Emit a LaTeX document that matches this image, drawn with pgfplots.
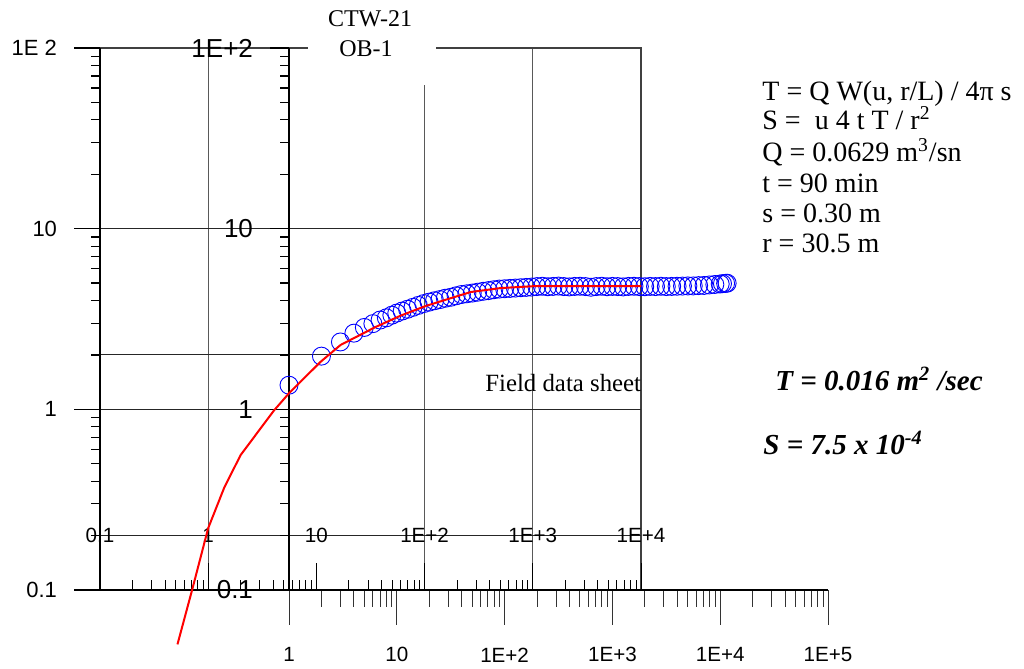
\documentclass[border=0pt]{standalone}
\usepackage{pgfplots}
\pgfplotsset{compat=1.18}
\usepackage{fontspec}
\setmainfont{Liberation Serif}
\newfontfamily\arial{Liberation Sans}

% field data (time, drawdown)
\pgfplotstableread{
t s
1 1.36
2 1.97
3 2.36
4 2.64
5 2.84
6 2.98
7 3.12
8 3.21
9 3.32
10 3.41
11.22 3.50
12.59 3.58
14.13 3.67
15.85 3.76
17.78 3.85
19.95 3.92
22.39 3.99
25.12 4.05
28.18 4.12
31.62 4.17
35.48 4.25
39.81 4.32
44.67 4.36
50.12 4.40
56.23 4.45
63.10 4.50
70.79 4.54
79.43 4.59
89.13 4.63
100 4.65
112.2 4.67
125.9 4.69
141.3 4.71
158.5 4.73
177.8 4.75
199.5 4.78
223.9 4.80
251.2 4.77
281.8 4.79
316.2 4.81
354.8 4.78
398.1 4.76
446.7 4.79
501.2 4.80
562.3 4.78
631.0 4.74
707.9 4.78
794.3 4.80
891.3 4.77
1000 4.79
1122 4.78
1259 4.76
1413 4.79
1585 4.80
1778 4.78
1995 4.77
2239 4.79
2512 4.78
2818 4.80
3162 4.78
3548 4.79
3981 4.80
4467 4.81
5012 4.82
5623 4.82
6310 4.84
7079 4.85
7943 4.88
8913 4.91
10000 4.94
10500 4.96
11220 4.98
11600 4.99
}\fielddata

% type curve W(u, r/L) against 1/u
\pgfplotstableread{
x W
0.52 0.05
0.71 0.1
1 0.22
1.41 0.37
2 0.56
4.08 0.99
5.6 1.23
10.9 1.83
16.7 2.27
35 2.85
60 3.30
102 3.73
174 4.12
267 4.46
505 4.69
1047 4.81
10000 4.81
}\typecurve

\begin{document}
\begin{tikzpicture}
\useasboundingbox (-50pt,-39.5pt) rectangle (462pt,295pt);

% frame and match lines of the type-curve sheet
\begin{axis}[xmode=log, ymode=log, xmin=0.1, xmax=1e4, ymin=0.1, ymax=100,
  scale only axis, width=270.5pt, height=271pt, at={(0pt,0pt)}, anchor=south west,
  xtick={1,100,1000}, xticklabels={},
  ytick=\empty,
  extra y ticks={0.2,1,2,10}, extra y tick labels={},
  extra y tick style={grid=major, major grid style={black!85, line width=0.5pt}},
  minor xtick={}, minor ytick={},
  major tick length=0pt, minor tick length=0pt,
  grid=major, major grid style={black!65, line width=0.55pt},
  axis line style={black!75, line width=0.6pt},
]
\end{axis}

% type curve: W axis
\begin{axis}[xmode=log, ymode=log, xmin=0.1, xmax=1e4, ymin=0.1, ymax=100,
  scale only axis, width=270.5pt, height=271pt, at={(0pt,0pt)}, anchor=south west,
  hide x axis, axis y line*=left, tick align=outside,
  ytick={0.1,1,10,100}, yticklabels={0.1,1,10,1E 2},
  minor ytick={0.2,0.3,0.4,0.5,0.6,0.7,0.8,0.9,2,3,4,5,6,7,8,9,20,30,40,50,60,70,80,90},
  major tick length=13pt, minor tick length=4.5pt,
  every tick/.style={black, line width=0.6pt},
  axis line style={black, line width=0.7pt},
  yticklabel style={font=\arial\fontsize{11}{13}\selectfont, anchor=east, xshift=-5pt},
]
\end{axis}

% field data: drawdown axis
\begin{axis}[xmode=log, ymode=log, xmin=1, xmax=1e5, ymin=0.1, ymax=100,
  scale only axis, width=269.5pt, height=271pt, at={(94.5pt,0pt)}, anchor=south west,
  hide x axis, axis y line*=left, tick align=outside,
  ytick={0.1,1,10,100}, yticklabels={0.1,1,10,1E+2},
  minor ytick={0.2,0.3,0.4,0.5,0.6,0.7,0.8,0.9,2,3,4,5,6,7,8,9,20,30,40,50,60,70,80,90},
  major tick length=9.5pt, minor tick length=4.5pt,
  every tick/.style={black, line width=0.6pt},
  axis line style={black, line width=0.7pt},
  yticklabel style={font=\arial\fontsize{13}{15}\selectfont, anchor=east, xshift=-5pt},
]
\end{axis}

% field data: time axis and points
\begin{axis}[xmode=log, ymode=log, xmin=1, xmax=1e5, ymin=0.1, ymax=100,
  scale only axis, width=269.5pt, height=271pt, at={(94.5pt,0pt)}, anchor=south west,
  hide y axis, axis x line*=bottom, tick align=outside,
  xtick={1,10,100,1000,10000,100000}, xticklabels={1,10,1E+2,1E+3,1E+4,1E+5},
  minor xtick={2,3,4,5,6,7,8,9,20,30,40,50,60,70,80,90,200,300,400,500,600,700,800,900,2000,3000,4000,5000,6000,7000,8000,9000,20000,30000,40000,50000,60000,70000,80000,90000},
  major tick length=17.5pt, minor tick length=8.5pt,
  every tick/.style={black!80, line width=0.5pt},
  axis line style={black, line width=0.7pt},
  xticklabel style={font=\arial\fontsize{10.3}{12}\selectfont, anchor=center, yshift=-15pt},
]
\addplot[only marks, mark=o, mark size=4.5pt, blue, mark options={line width=0.45pt}] table[x=t, y=s] {\fielddata};
\end{axis}

% type curve: 1/u axis and curve
\begin{axis}[xmode=log, ymode=log, xmin=0.1, xmax=1e4, ymin=0.1, ymax=100,
  scale only axis, width=270.5pt, height=271pt, at={(0pt,0pt)}, anchor=south west,
  hide y axis, axis x line*=bottom, tick align=inside, clip=false,
  xtick={0.1,1,10,100,1000,10000}, xticklabels={0.1,1,10,1E+2,1E+3,1E+4},
  minor xtick={0.2,0.3,0.4,0.5,0.6,0.7,0.8,0.9,2,3,4,5,6,7,8,9,20,30,40,50,60,70,80,90,200,300,400,500,600,700,800,900,2000,3000,4000,5000,6000,7000,8000,9000},
  major tick length=13.5pt, minor tick length=5pt,
  every tick/.style={black, line width=0.5pt},
  axis line style={black, line width=0.7pt},
  xticklabel style={font=\arial\fontsize{10.3}{12}\selectfont, anchor=center, yshift=27.5pt},
]
\addplot[red, line width=1pt] table[x=x, y=W] {\typecurve};
\end{axis}

% title block
\fill[white] (104pt,252.5pt) rectangle (168pt,295pt);
\node[anchor=base, inner sep=0pt, font=\fontsize{12}{14}\selectfont] at (135pt,281.5pt) {CTW-21};
\node[anchor=base, inner sep=0pt, font=\fontsize{12}{14}\selectfont] at (133pt,266.5pt) {OB-1};

\node[anchor=base west, inner sep=0pt, font=\fontsize{12.4}{14}\selectfont] at (192.5pt,99pt) {Field data sheet};

\begin{scope}[every node/.style={anchor=base west, inner sep=0pt, font=\fontsize{14}{16}\selectfont}]
\node at (331pt,244.5pt) {T = Q W(u, r/L) / 4π s};
\node at (331pt,230pt) {S = \ u 4 t T / r\textsuperscript{2}};
\node at (331pt,214pt) {Q = 0.0629 m\textsuperscript{3}/sn};
\node at (331pt,198.5pt) {t = 90 min};
\node at (331pt,183.5pt) {s = 0.30 m};
\node at (331pt,168.5pt) {r = 30.5 m};
\end{scope}
\node[anchor=base west, inner sep=0pt, font=\fontsize{14.5}{16}\selectfont\bfseries\itshape] at (337.5pt,99.5pt) {T = 0.016 m\textsuperscript{2} /sec};
\node[anchor=base west, inner sep=0pt, font=\fontsize{14.5}{16}\selectfont\bfseries\itshape] at (331.5pt,67.5pt) {S = 7.5 x 10\textsuperscript{-4}};
\end{tikzpicture}
\end{document}
